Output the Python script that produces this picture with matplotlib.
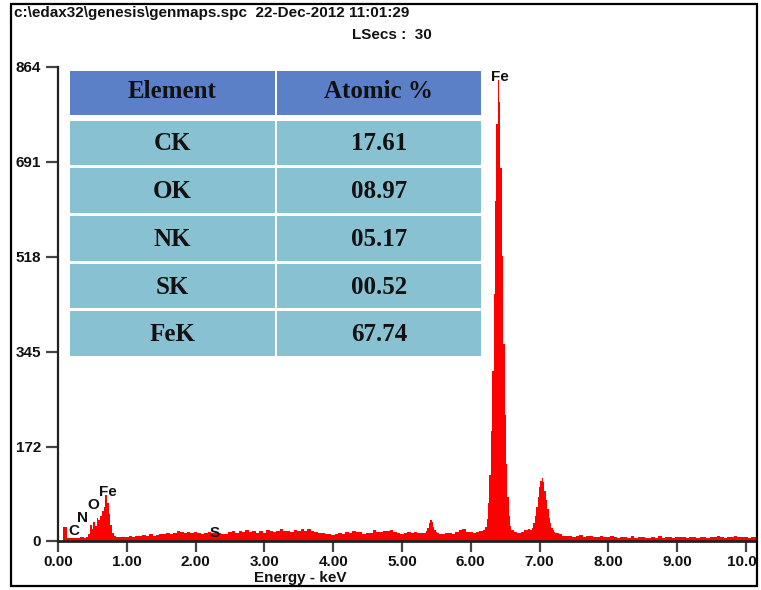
import numpy as np
import matplotlib
matplotlib.use('Agg')
import matplotlib.pyplot as plt
from matplotlib.patches import Rectangle
from matplotlib import font_manager

# ---- spectrum (counts) ----
# background every 0.05 keV, 0.00 .. 10.15
bg_step = 0.05
bg_counts = [
    0, 0, 25, 6, 5, 6, 5, 7, 8, 12, 22, 38, 45, 60, 84, 30, 9, 7, 8, 7,
    8, 9, 8, 10, 9, 11, 10, 12, 10, 11, 13, 12, 14, 12, 15, 18, 16, 14, 17, 15,
    16, 14, 13, 15, 16, 14, 17, 15, 13, 12, 16, 18, 15, 19, 17, 20, 16, 18, 15, 19,
    14, 20, 18, 17, 19, 21, 18, 19, 17, 20, 18, 21, 19, 22, 18, 17, 15, 14, 12, 13,
    11, 12, 14, 13, 16, 14, 19, 17, 16, 12, 14, 15, 20, 17, 16, 18, 19, 20, 17, 14,
    13, 15, 16, 14, 17, 15, 14, 20, 36, 24, 16, 13, 12, 14, 15, 13, 17, 20, 21, 17,
    16, 15, 17, 18, 20, 200, 600, 800, 400, 120, 30, 18, 16, 17, 15, 16, 20, 22, 40, 80,
    80, 112, 90, 55, 30, 15, 12, 10, 9, 10, 8, 9, 11, 8, 9, 10, 7, 8, 9, 7,
    8, 9, 7, 6, 8, 7, 6, 9, 6, 7, 8, 6, 5, 7, 6, 9, 6, 7, 8, 6,
    7, 8, 7, 6, 8, 7, 6, 7, 8, 6, 7, 8, 9, 7, 6, 8, 7, 9, 8, 7,
    8, 6, 7, 8,
]

# finer windows around the peaks: (start keV, step keV, counts)
fe_l_counts = [6, 8, 12, 30, 22, 35, 28, 42, 38, 45, 55, 62, 84, 70, 50, 30, 15, 9, 7]
cr_counts = [14, 18, 24, 32, 38, 34, 26, 20, 16, 14]
fe_ka_counts = [20, 25, 40, 70, 120, 200, 310, 450, 620, 760, 840,
                800, 680, 520, 360, 230, 140, 80, 45, 28, 20]
fe_kb_counts = [20, 24, 32, 45, 62, 80, 98, 110, 115, 108, 92, 75, 58, 42,
                32, 24, 20, 17, 15, 14]
windows = [(0.40, 0.025, fe_l_counts), (5.34, 0.02, cr_counts),
           (6.20, 0.02, fe_ka_counts), (6.88, 0.02, fe_kb_counts)]

peak_labels = ['C', 'N', 'O', 'Fe', 'S', 'Fe']
peak_label_kev = [0.23, 0.35, 0.51, 0.73, 2.28, 6.42]
peak_label_cnt = [18, 42, 66, 89, 15, 846]

y_ticks = [0, 172, 345, 518, 691, 864]
x_ticks = [0, 1, 2, 3, 4, 5, 6, 7, 8, 9, 10]
x_tick_labels = ['0.00', '1.00', '2.00', '3.00', '4.00', '5.00',
                 '6.00', '7.00', '8.00', '9.00', '10.00']

table_head = ['Element', 'Atomic %']
elements = ['CK', 'OK', 'NK', 'SK', 'FeK']
atomic_pct = ['17.61', '08.97', '05.17', '00.52', '67.74']

header_line1 = 'c:\\edax32\\genesis\\genmaps.spc  22-Dec-2012 11:01:29'
header_line2 = 'LSecs :  30'

# ---- build spectrum arrays ----
bg_e = np.round(np.arange(len(bg_counts)) * bg_step, 3)
bg_c = np.array(bg_counts, float)
keep = np.ones(len(bg_e), bool)
e_parts, c_parts = [], []
for start, step, vals in windows:
    we = start + step * np.arange(len(vals))
    keep &= ~((bg_e >= we[0] - 1e-9) & (bg_e <= we[-1] + 1e-9))
    e_parts.append(we)
    c_parts.append(np.array(vals, float))
energy = np.concatenate([bg_e[keep]] + e_parts)
counts = np.concatenate([bg_c[keep]] + c_parts)
order = np.argsort(energy)
energy, counts = energy[order], counts[order]

# ---- fonts ----
names = {f.name for f in font_manager.fontManager.ttflist}
narrow = 'Liberation Sans Narrow' if 'Liberation Sans Narrow' in names else 'Liberation Sans'
serif = 'Liberation Serif'

W, H = 761, 590
def fx(x):
    return x / W
def fy(y):
    return 1 - y / H

fig = plt.figure(figsize=(W / 100, H / 100), dpi=100)
fig.patch.set_facecolor('white')

x0, x1 = 58, 757
yb, yt = 541, 67
ax = fig.add_axes([fx(x0), fy(yb), (x1 - x0) / W, (yb - yt) / H])
kev_per_px = 1 / 68.8
ax.set_xlim(0, (x1 - x0) * kev_per_px)
ax.set_ylim(0, 864)
ax.patch.set_alpha(0)

ax.fill_between(energy, counts, step='mid', color='#ff0000', lw=0)

for s in ['top', 'right']:
    ax.spines[s].set_visible(False)
ax.spines['left'].set_linewidth(1.6)
ax.spines['left'].set_color('#222222')
ax.spines['bottom'].set_linewidth(2)
ax.spines['bottom'].set_color('#222222')

ax.set_xticks(x_ticks)
ax.set_xticklabels(x_tick_labels)
ax.set_yticks(y_ticks)
ax.set_yticklabels([str(v) for v in y_ticks])
ax.tick_params(axis='x', direction='out', length=8, width=1.6, color='#444444', pad=2)
ax.tick_params(axis='y', direction='out', length=9, width=1.6, color='#444444', pad=3)
for lab in ax.get_xticklabels() + ax.get_yticklabels():
    lab.set_fontfamily(narrow)
    lab.set_fontweight('bold')
    lab.set_fontsize(11)
    lab.set_color('#111111')

for lab, e, c in zip(peak_labels, peak_label_kev, peak_label_cnt):
    ax.text(e, c, lab, ha='center', va='center', fontsize=11, fontweight='bold',
            family=narrow, color='#111111', clip_on=False)

# ---- table overlay ----
head_col = '#5c80c8'
body_col = '#88c1d1'
cols = [(70, 275), (277, 481)]
rows = [(121, 165), (168, 213), (216, 261), (264, 308), (311, 356)]
for (cl, cr), txt in zip(cols, table_head):
    fig.add_artist(Rectangle((fx(cl), fy(115)), (cr - cl) / W, 44 / H,
                             transform=fig.transFigure, color=head_col, lw=0))
    fig.text(fx((cl + cr) / 2), fy(92), txt, ha='center', va='center',
             family=serif, fontweight='bold', fontsize=18, color='#111111')
for (rt, rb), el, pc in zip(rows, elements, atomic_pct):
    for (cl, cr), txt in zip(cols, [el, pc]):
        fig.add_artist(Rectangle((fx(cl), fy(rb)), (cr - cl) / W, (rb - rt) / H,
                                 transform=fig.transFigure, color=body_col, lw=0))
        fig.text(fx((cl + cr) / 2), fy((rt + rb) / 2 + 1), txt, ha='center', va='center',
                 family=serif, fontweight='bold', fontsize=18, color='#111111')

# ---- header and axis title ----
fig.text(fx(14), fy(13), header_line1, ha='left', va='center', family=narrow,
         fontweight='bold', fontsize=11, color='#111111')
fig.text(fx(352), fy(35), header_line2, ha='left', va='center', family=narrow,
         fontweight='bold', fontsize=11, color='#111111')
fig.text(fx(300), fy(578), 'Energy - keV', ha='center', va='center', family=narrow,
         fontweight='bold', fontsize=11, color='#111111')

# mask anything past the right frame edge, then the frame
fig.add_artist(Rectangle((fx(758), 0), 3 / W, 1, transform=fig.transFigure,
                         color='white', lw=0, zorder=5))
fig.add_artist(Rectangle((fx(11), fy(586)), (757 - 11) / W, (586 - 4) / H,
                         transform=fig.transFigure, fill=False, ec='black',
                         lw=1.6, zorder=6))

fig.savefig('out.png', dpi=100)
